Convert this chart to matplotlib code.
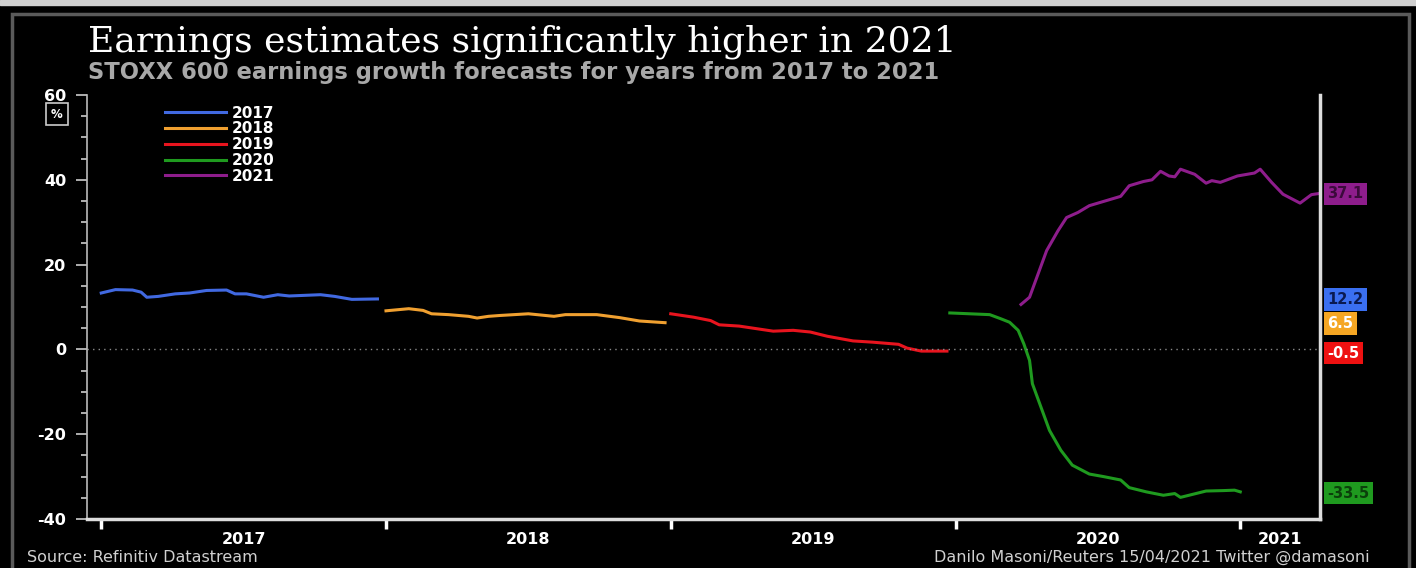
import matplotlib
matplotlib.use('Agg')
import matplotlib.pyplot as plt
from matplotlib.patches import Rectangle
from matplotlib.ticker import FixedLocator, NullFormatter

plt.rcParams['axes.unicode_minus'] = False

# DATA (x in decimal years, y in %)
x_2017 = [2017.00, 2017.05, 2017.11, 2017.14, 2017.16, 2017.20, 2017.26, 2017.31, 2017.37, 2017.44,
          2017.47, 2017.51, 2017.57, 2017.62, 2017.66, 2017.77, 2017.82, 2017.88, 2017.97]
y_2017 = [13.3, 14.1, 14.0, 13.5, 12.3, 12.5, 13.1, 13.3, 13.9, 14.0,
          13.1, 13.1, 12.3, 12.9, 12.6, 12.9, 12.5, 11.8, 11.9]

x_2018 = [2018.00, 2018.08, 2018.13, 2018.16, 2018.22, 2018.29, 2018.32, 2018.36, 2018.40, 2018.50,
          2018.59, 2018.63, 2018.74, 2018.82, 2018.89, 2018.98]
y_2018 = [9.1, 9.6, 9.2, 8.4, 8.2, 7.8, 7.4, 7.8, 8.0, 8.4,
          7.8, 8.2, 8.2, 7.5, 6.7, 6.3]

x_2019 = [2019.00, 2019.02, 2019.08, 2019.14, 2019.17, 2019.24, 2019.36, 2019.43, 2019.49, 2019.55,
          2019.64, 2019.71, 2019.80, 2019.83, 2019.88, 2019.97]
y_2019 = [8.4, 8.2, 7.6, 6.8, 5.8, 5.5, 4.3, 4.5, 4.1, 3.1,
          2.0, 1.7, 1.2, 0.3, -0.4, -0.4]

x_2020 = [2019.98, 2020.12, 2020.16, 2020.19, 2020.22, 2020.24, 2020.26, 2020.27, 2020.30, 2020.33,
          2020.37, 2020.41, 2020.47, 2020.52, 2020.58, 2020.61, 2020.67, 2020.73, 2020.77, 2020.79,
          2020.82, 2020.88, 2020.94, 2020.98, 2021.00]
y_2020 = [8.6, 8.2, 7.2, 6.4, 4.5, 1.3, -2.6, -8.1, -13.6, -19.1,
          -23.8, -27.3, -29.4, -30.0, -30.8, -32.6, -33.6, -34.4, -34.0, -34.9,
          -34.4, -33.4, -33.3, -33.2, -33.6]

x_2021 = [2020.23, 2020.26, 2020.29, 2020.32, 2020.36, 2020.39, 2020.43, 2020.47, 2020.53, 2020.58,
          2020.61, 2020.66, 2020.69, 2020.72, 2020.75, 2020.77, 2020.79, 2020.84, 2020.88, 2020.90,
          2020.93, 2020.99, 2021.05, 2021.07, 2021.11, 2021.15, 2021.21, 2021.25, 2021.28]
y_2021 = [10.6, 12.3, 17.8, 23.3, 28.0, 31.1, 32.3, 33.9, 35.1, 36.1,
          38.6, 39.6, 40.0, 42.0, 40.9, 40.7, 42.5, 41.3, 39.2, 39.8,
          39.4, 40.9, 41.6, 42.5, 39.4, 36.6, 34.5, 36.5, 36.8]

series_names = ['2017', '2018', '2019', '2020', '2021']
last_labels = ['12.2', '6.5', '-0.5', '-33.5', '37.1']
last_values = [12.2, 6.5, -0.5, -33.5, 37.1]
year_labels = ['2017', '2018', '2019', '2020', '2021']
year_label_pos = [2017.5, 2018.5, 2019.5, 2020.5, 2021.14]

line_colors = ['#4169e1', '#f0a030', '#e8141e', '#1f9a1f', '#8e1d8c']
box_colors = ['#3a6ff0', '#f5a623', '#ee1111', '#1f9a1f', '#8e1d8c']
box_text = ['#0a1a50', 'white', 'white', '#0b400b', '#3c0a3c']

fig = plt.figure(figsize=(14.16, 5.68), dpi=100, facecolor='black')

# FRAME AROUND THE PANEL
fig.patches.append(Rectangle((0, 1 - 5 / 568), 1, 5 / 568, transform=fig.transFigure,
                             color='#d0d0d0', zorder=0))
fig.patches.append(Rectangle((12 / 1416, -0.05), 1397 / 1416, 1.05 - 14 / 568, transform=fig.transFigure,
                             fill=False, edgecolor='#5a5a5a', lw=2.5, zorder=0))

ax = fig.add_axes([87 / 1416, 1 - 519 / 568, (1320 - 87) / 1416, (519 - 95) / 568])
ax.set_facecolor('black')

xs = [x_2017, x_2018, x_2019, x_2020, x_2021]
ys = [y_2017, y_2018, y_2019, y_2020, y_2021]
for xv, yv, c, name in zip(xs, ys, line_colors, series_names):
    ax.plot(xv, yv, color=c, lw=2.2, label=name)

ax.axhline(0, color='#8a8a8a', lw=1, ls=(0, (1, 3)))

ax.set_xlim(2016.95, 2021.28)
ax.set_ylim(-40, 60)

# Y AXIS
ax.set_yticks([-40, -20, 0, 20, 40, 60])
ax.yaxis.set_minor_locator(FixedLocator(range(-40, 61, 5)))
ax.tick_params(axis='y', which='major', length=8, width=1.2, color='#cccccc',
               labelcolor='white', labelsize=11.5, pad=7)
ax.tick_params(axis='y', which='minor', length=4, width=1.2, color='#cccccc')
for t in ax.get_yticklabels():
    t.set_fontweight('bold')

# X AXIS: ticks at year boundaries, labels mid-year
ax.set_xticks([2017, 2018, 2019, 2020, 2021])
ax.xaxis.set_major_formatter(NullFormatter())
ax.set_xticks(year_label_pos, minor=True)
ax.set_xticklabels(year_labels, minor=True, fontweight='bold')
ax.tick_params(axis='x', which='major', length=7, width=2.5, color='white', direction='out')
ax.tick_params(axis='x', which='minor', length=0, labelcolor='white', labelsize=11.5, pad=9)

ax.spines['top'].set_visible(False)
ax.spines['left'].set_color('#bbbbbb')
ax.spines['bottom'].set_color('#dddddd')
ax.spines['right'].set_color('#dddddd')
ax.spines['left'].set_linewidth(1.2)
ax.spines['bottom'].set_linewidth(2.5)
ax.spines['right'].set_linewidth(2.5)

# LAST VALUE BOXES ON THE RIGHT
for val, lab, bc, tc in zip(last_values, last_labels, box_colors, box_text):
    ax.text(1.006, val - 0.4, lab, transform=ax.get_yaxis_transform(), ha='left', va='center',
            fontsize=10.5, fontweight='bold', color=tc, clip_on=False,
            bbox=dict(boxstyle='square,pad=0.25', facecolor=bc, edgecolor='none'))

leg = ax.legend(loc='upper left', bbox_to_anchor=(0.063, 0.975), frameon=False,
                fontsize=11, handlelength=4, handletextpad=0.4, labelspacing=0.05,
                borderpad=0, borderaxespad=0)
for t in leg.get_texts():
    t.set_color('white')
    t.set_fontweight('bold')

# % BOX
fig.text(57 / 1416, 1 - 114 / 568, '%', color='white', fontsize=8.5, fontweight='bold',
         ha='center', va='center',
         bbox=dict(boxstyle='square,pad=0.4', facecolor='black', edgecolor='#cccccc', lw=1.2))

# TITLES AND FOOTER
fig.text(88 / 1416, 1 - 42 / 568, 'Earnings estimates significantly higher in 2021',
         color='white', fontsize=26, family='DejaVu Serif', va='center', ha='left')
fig.text(88 / 1416, 1 - 73 / 568, 'STOXX 600 earnings growth forecasts for years from 2017 to 2021',
         color='#a8a8a8', fontsize=16.3, fontweight='bold', va='center', ha='left')
fig.text(27 / 1416, 1 - 558 / 568, 'Source: Refinitiv Datastream', color='#d0d0d0',
         fontsize=11.5, va='center', ha='left')
fig.text(1370 / 1416, 1 - 557 / 568, 'Danilo Masoni/Reuters 15/04/2021 Twitter @damasoni',
         color='#d0d0d0', fontsize=11.5, va='center', ha='right')

fig.savefig('out.png', dpi=100, facecolor='black')
